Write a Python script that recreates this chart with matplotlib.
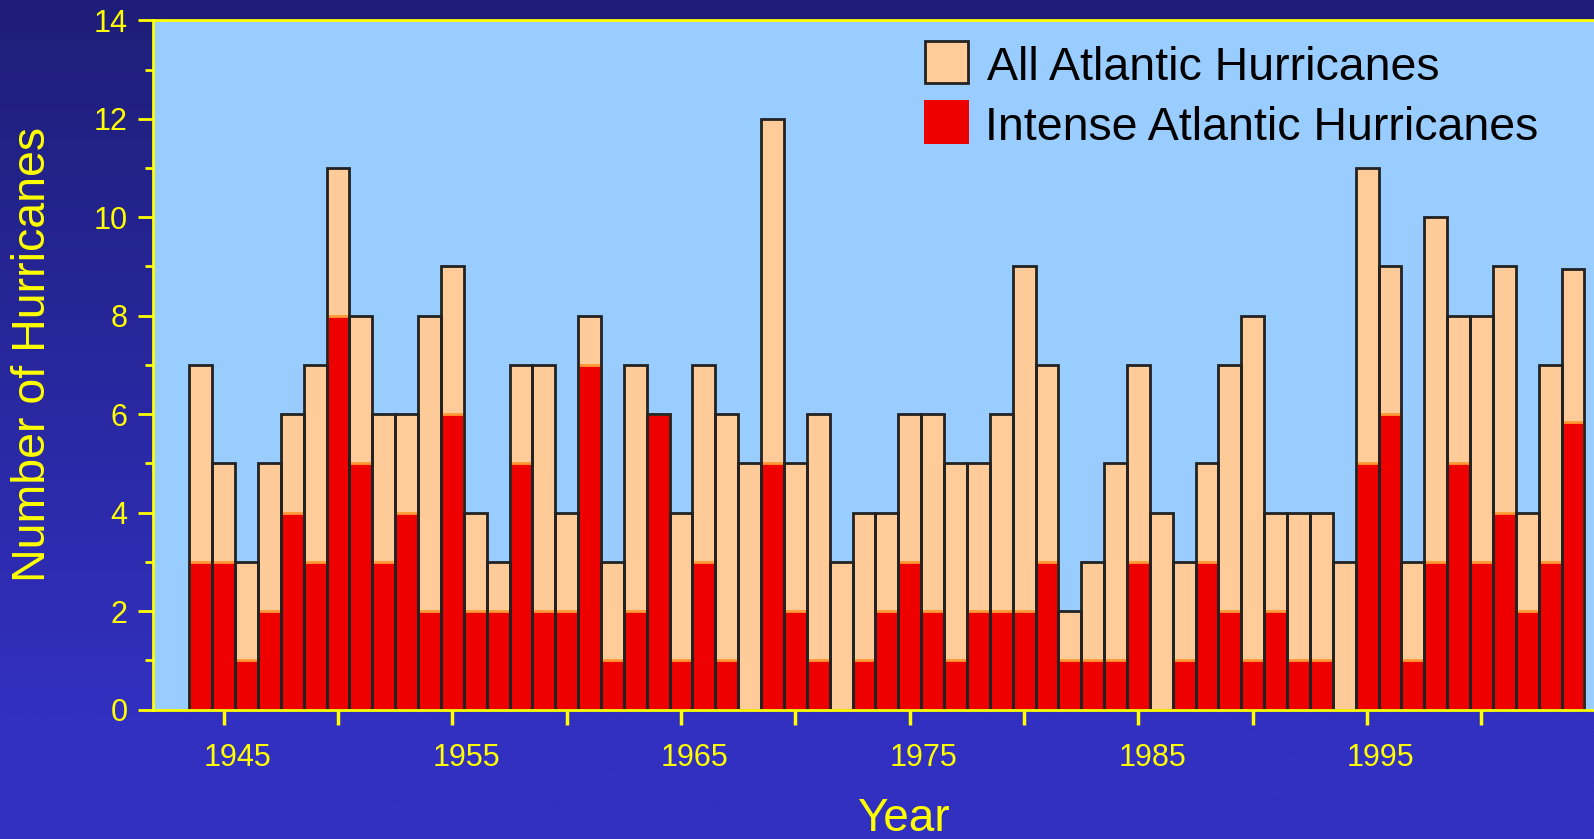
import numpy as np
import matplotlib
matplotlib.use("Agg")
import matplotlib.pyplot as plt
from matplotlib.patches import Rectangle
from matplotlib.ticker import MultipleLocator
import matplotlib.transforms as mtransforms

plt.rcParams['font.family'] = ['Liberation Sans', 'DejaVu Sans']

# ---- data ----
years = list(range(1944, 2005))
all_hurricanes = [7, 5, 3, 5, 6, 7, 11, 8, 6, 6, 8, 9, 4, 3, 7, 7, 4, 8, 3, 7,
                  6, 4, 7, 6, 5, 12, 5, 6, 3, 4, 4, 6, 6, 5, 5, 6, 9, 7, 2, 3,
                  5, 7, 4, 3, 5, 7, 8, 4, 4, 4, 3, 11, 9, 3, 10, 8, 8, 9, 4, 7, 8.95]
intense_hurricanes = [3, 3, 1, 2, 4, 3, 8, 5, 3, 4, 2, 6, 2, 2, 5, 2, 2, 7, 1, 2,
                      6, 1, 3, 1, 0, 5, 2, 1, 0, 1, 2, 3, 2, 1, 2, 2, 2, 3, 1, 1,
                      1, 3, 0, 1, 3, 2, 1, 2, 1, 1, 0, 5, 6, 1, 3, 5, 3, 4, 2, 3, 5.85]
xtick_years = list(range(1945, 2001, 5))
xlabel_years = [1945, 1955, 1965, 1975, 1985, 1995]
legend_labels = ["All Atlantic Hurricanes", "Intense Atlantic Hurricanes"]

W, H = 1594, 839
fig = plt.figure(figsize=(W / 100, H / 100), dpi=100)

def fx(x):
    return x / W

def fy(y):
    return 1 - y / H

# background gradient
bg = fig.add_axes([0, 0, 1, 1], zorder=-10)
top = np.array([30, 30, 120]) / 255.0
bot = np.array([50, 48, 192]) / 255.0
t = np.clip(np.linspace(0, 1, 400) / 0.85, 0, 1)[:, None]
grad = top[None, :] * (1 - t) + bot[None, :] * t
grad = np.repeat(grad[:, None, :], 2, axis=1)
bg.imshow(grad, aspect='auto', extent=[0, 1, 0, 1], origin='upper')
bg.axis('off')

# main axes
left_px, top_px, bottom_px = 152.5, 20.3, 709.6
ax = fig.add_axes([fx(left_px), fy(bottom_px), 1 - fx(left_px), (bottom_px - top_px) / H])
ax.set_facecolor('#99CCFF')
ax.set_xlim(1941.89, 2004.92)
ax.set_ylim(0, 14)

ax.bar(years, all_hurricanes, width=1.0, color='#FFCC99', edgecolor='none', zorder=2)
ax.bar(years, intense_hurricanes, width=1.0, color='#EE0000', edgecolor='#FF9933',
       linewidth=2.0, zorder=3)
ax.bar(years, all_hurricanes, width=1.0, fill=False, edgecolor='#222222',
       linewidth=2.0, zorder=4)

for side in ['left', 'top', 'bottom']:
    ax.spines[side].set_color('yellow')
    ax.spines[side].set_linewidth(2)
    ax.spines[side].set_zorder(6)
ax.spines['right'].set_visible(False)

ax.set_yticks(range(0, 15, 2))
ax.yaxis.set_minor_locator(MultipleLocator(1))
ax.tick_params(axis='y', which='major', length=11, width=2, color='yellow',
               labelcolor='yellow', labelsize=22, pad=7, direction='out')
ax.tick_params(axis='y', which='minor', length=6, width=2, color='yellow', direction='out')

ax.set_xticks(xtick_years)
ax.set_xticklabels([''] * len(xtick_years))
ax.tick_params(axis='x', which='major', length=11, width=2.5, color='yellow', direction='out')

trans = mtransforms.blended_transform_factory(ax.transData, fig.transFigure)
for yr in xlabel_years:
    ax.text(yr + 0.6, fy(766), str(yr), transform=trans, ha='center', va='baseline',
            color='yellow', fontsize=22, clip_on=False)

fig.text(fx(33), fy(355), 'Number of Hurricanes', rotation=90, ha='center', va='center',
         color='yellow', fontsize=33.5)
fig.text(fx(903), fy(831), 'Year', ha='center', va='baseline', color='yellow', fontsize=33)

# legend
fig.add_artist(Rectangle((fx(925), fy(82.5)), (968 - 925) / W, (82.5 - 40.5) / H,
                         transform=fig.transFigure, facecolor='#FFCC99',
                         edgecolor='#222222', linewidth=2, zorder=10))
fig.add_artist(Rectangle((fx(924), fy(144)), (968.5 - 924) / W, (144 - 100) / H,
                         transform=fig.transFigure, facecolor='#EE0000',
                         edgecolor='none', zorder=10))
fig.text(fx(987), fy(80), legend_labels[0], ha='left', va='baseline', color='black',
         fontsize=33.5, zorder=11)
fig.text(fx(985), fy(140), legend_labels[1], ha='left', va='baseline', color='black',
         fontsize=33.5, zorder=11)

fig.savefig('out.png', dpi=100)
